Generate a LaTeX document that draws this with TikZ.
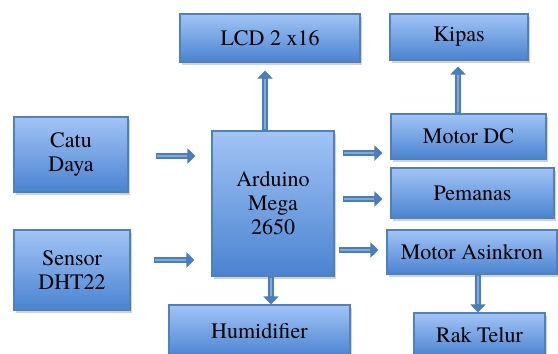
\documentclass[tikz,border=0pt]{standalone}
\usepackage{fontspec}
\setmainfont{texgyretermes}[Extension=.otf, UprightFont=*-regular, BoldFont=*-bold]
\usetikzlibrary{calc,shadows,arrows.meta}
\definecolor{btop}{HTML}{A2C4F6}
\definecolor{bbot}{HTML}{4A83D1}
\definecolor{bline}{HTML}{4F81BD}
\definecolor{aout}{HTML}{4A7EBB}
\definecolor{ain}{HTML}{7FA9E2}
\tikzset{
  box/.style={draw=bline, line width=1.1pt, top color=btop, bottom color=bbot,
    align=center, inner sep=0pt, font=\rmfamily\fontsize{22}{24}\selectfont,
    drop shadow={opacity=0.35, shadow xshift=2pt, shadow yshift=-2.5pt}},
  arrout/.style={draw=aout, line width=6.5pt, line cap=butt,
    -{Triangle[width=15pt,length=8pt]}},
  arrin/.style={draw=ain, line width=2.5pt, line cap=butt, shorten >=8pt, shorten <=1.2pt}
}
\newcommand\barrow[2]{\draw[arrout] #1 -- #2; \draw[arrin] #1 -- #2;}
\begin{document}
\begin{tikzpicture}[x=1pt,y=-1pt]
\useasboundingbox (0,0) rectangle (558,354);
\fill[white] (0,0) rectangle (558,354);
\clip (0,0) rectangle (558,354);
\node[box, minimum width=180pt, minimum height=48pt] (lcd) at (270,38) {LCD 2 x16};
\node[box, minimum width=138pt, minimum height=46pt] (kip) at (459,37) {Kipas};
\node[box, minimum width=114pt, minimum height=75pt] (catu) at (71,154.5) {Catu\\Daya};
\node[box, minimum width=122pt, minimum height=145pt] (ard) at (273,203.5) {Arduino\\Mega\\2650};
\node[box, minimum width=155pt, minimum height=45pt] (mdc) at (468.5,136.5) {Motor DC};
\node[box, minimum width=163pt, minimum height=50pt] (pem) at (472.5,193) {Pemanas};
\node[box, minimum width=170pt, minimum height=44pt] (asn) at (472,252) {Motor Asinkron};
\node[box, minimum width=116pt, minimum height=80pt] (sens) at (72,270) {Sensor\\DHT22};
\node[box, minimum width=181pt, minimum height=52pt] (hum) at (259.5,331) {Humidifier};
\node[box, minimum width=131pt, minimum height=44pt] (rak) at (479.5,335) {Rak Telur};
\barrow{($(catu.east)+(27,1.5)$)}{($(catu.east -| ard.west)+(-16,1.5)$)}
\barrow{($(sens.east)+(23,-10)$)}{($(sens.east -| ard.west)+(-17,-10)$)}
\barrow{($(ard.north)+(-8,0)$)}{($(lcd.south)+(-5,8)$)}
\barrow{($(mdc.north)+(-10.5,0)$)}{($(kip.south)+(-1,6)$)}
\barrow{($(mdc.west -| ard.east)+(8,16.5)$)}{($(mdc.west)+(-8,16.5)$)}
\barrow{($(pem.west -| ard.east)+(8,6)$)}{($(pem.west)+(-8,6)$)}
\barrow{($(asn.west -| ard.east)+(4,-2)$)}{($(asn.west)+(-8,-2)$)}
\barrow{($(ard.south)+(-2,0)$)}{($(hum.north -| ard.south)+(-2,0)$)}
\barrow{($(asn.south)+(6,0)$)}{($(rak.north)+(-1.5,0)$)}
\end{tikzpicture}
\end{document}
